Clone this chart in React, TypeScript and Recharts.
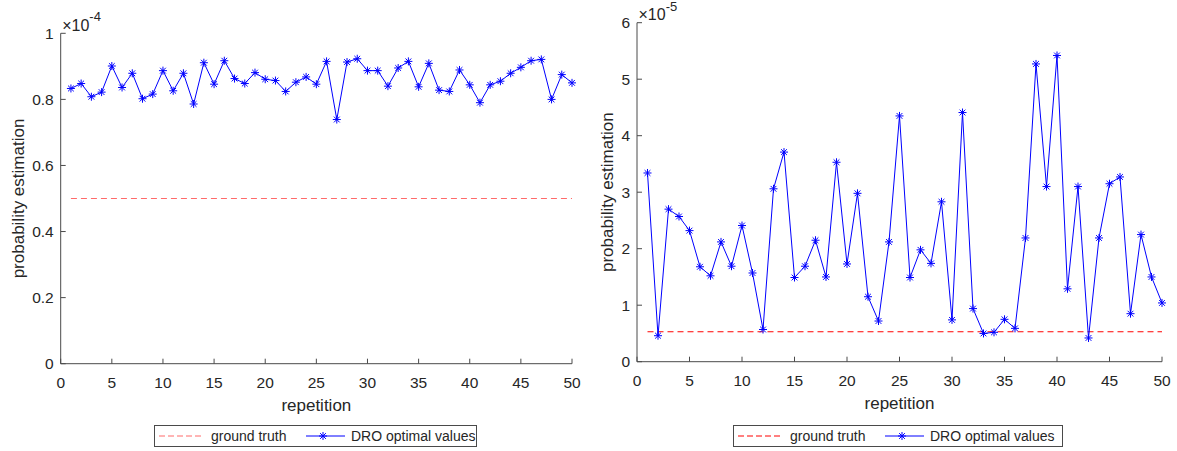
import React from "react";
import { Line, LineChart, ReferenceLine, XAxis, YAxis } from "recharts";

// repetition index (x axis)
const repetitions = [
  1, 2, 3, 4, 5, 6, 7, 8, 9, 10, 11, 12, 13, 14, 15, 16, 17, 18, 19, 20, 21, 22, 23, 24, 25,
  26, 27, 28, 29, 30, 31, 32, 33, 34, 35, 36, 37, 38, 39, 40, 41, 42, 43, 44, 45, 46, 47, 48, 49, 50,
];

// left panel, values in units of 1e-4
const droLeft = [
  0.833, 0.848, 0.808, 0.822, 0.901, 0.836, 0.879, 0.802, 0.816, 0.887,
  0.826, 0.879, 0.786, 0.911, 0.846, 0.917, 0.863, 0.848, 0.881, 0.861,
  0.857, 0.824, 0.852, 0.868, 0.846, 0.915, 0.739, 0.913, 0.923, 0.887,
  0.887, 0.84, 0.895, 0.915, 0.838, 0.909, 0.828, 0.824, 0.889, 0.844,
  0.79, 0.844, 0.855, 0.879, 0.897, 0.917, 0.921, 0.8, 0.875, 0.85,
];
const truthLeft = 0.5;

// right panel, values in units of 1e-5
const droRight = [
  3.34, 0.46, 2.7, 2.57, 2.32, 1.68, 1.52, 2.12, 1.69, 2.41,
  1.57, 0.57, 3.06, 3.71, 1.49, 1.69, 2.15, 1.5, 3.53, 1.73,
  2.98, 1.15, 0.72, 2.12, 4.35, 1.49, 1.98, 1.74, 2.83, 0.74,
  4.41, 0.94, 0.5, 0.52, 0.75, 0.59, 2.19, 5.27, 3.1, 5.42,
  1.29, 3.1, 0.42, 2.19, 3.15, 3.27, 0.85, 2.25, 1.5, 1.04,
];
const truthRight = 0.53;

const xTicks = [0, 5, 10, 15, 20, 25, 30, 35, 40, 45, 50];
const yTicksLeft = [0, 0.2, 0.4, 0.6, 0.8, 1];
const yTicksRight = [0, 1, 2, 3, 4, 5, 6];

const FONT = '"Liberation Sans", Arial, Helvetica, sans-serif';
const TEXT = "#262626";
const AXIS = "#4a4a4a";
const BLUE = "#0000ff";

// matlab style '*' marker
const Star = (props: any) => {
  const { cx, cy } = props;
  if (cx == null || cy == null) return null;
  const r = 4;
  const d = r * 0.72;
  return (
    <g stroke={BLUE} strokeWidth={1} key={`s-${cx}-${cy}`}>
      <line x1={cx - r} y1={cy} x2={cx + r} y2={cy} />
      <line x1={cx} y1={cy - r} x2={cx} y2={cy + r} />
      <line x1={cx - d} y1={cy - d} x2={cx + d} y2={cy + d} />
      <line x1={cx - d} y1={cy + d} x2={cx + d} y2={cy - d} />
    </g>
  );
};

type PanelProps = {
  left: number;
  width: number;
  top: number;
  right: number;
  yAxisWidth: number;
  xAxisHeight: number;
  values: number[];
  truth: number;
  truthColor: string;
  yMax: number;
  yTicks: number[];
  exponent: string;
  yLabelX: number;
};

function Panel(p: PanelProps) {
  const data = repetitions.map((rep, i) => ({ rep, dro: p.values[i] }));
  const plotH = 451 - p.top - p.xAxisHeight;
  const plotW = p.width - p.yAxisWidth - p.right;
  return (
    <div style={{ position: "absolute", left: p.left, top: 0 }}>
      <LineChart
        width={p.width}
        height={451}
        data={data}
        margin={{ top: p.top, right: p.right, bottom: 0, left: 0 }}
      >
        <XAxis
          dataKey="rep"
          type="number"
          domain={[0, 50]}
          ticks={xTicks}
          interval={0}
          height={p.xAxisHeight}
          tickSize={-5}
          tickMargin={18}
          axisLine={{ stroke: AXIS, strokeWidth: 1 }}
          tickLine={{ stroke: AXIS, strokeWidth: 1 }}
          tick={{ fill: TEXT, fontSize: 15.5, fontFamily: FONT }}
          label={() => (
            <text
              x={p.yAxisWidth + plotW / 2}
              y={p.top + plotH + 47}
              textAnchor="middle"
              fill={TEXT}
              fontSize={17}
              fontFamily={FONT}
            >
              repetition
            </text>
          )}
        />
        <YAxis
          type="number"
          domain={[0, p.yMax]}
          ticks={p.yTicks}
          interval={0}
          width={p.yAxisWidth}
          tickSize={-5}
          tickMargin={12}
          axisLine={{ stroke: AXIS, strokeWidth: 1 }}
          tickLine={{ stroke: AXIS, strokeWidth: 1 }}
          tick={{ fill: TEXT, fontSize: 15.5, fontFamily: FONT }}
          tickFormatter={(v: number) => String(v)}
          label={() => (
            <g fontFamily={FONT} fill={TEXT}>
              <text
                x={p.yLabelX}
                y={p.top + plotH / 2}
                textAnchor="middle"
                fontSize={17}
                transform={`rotate(-90, ${p.yLabelX}, ${p.top + plotH / 2})`}
              >
                probability estimation
              </text>
              <text x={p.yAxisWidth + 1.5} y={p.top - 2.5} fontSize={16}>
                ×10
                <tspan fontSize={13} dy={-9.5}>
                  {p.exponent}
                </tspan>
              </text>
            </g>
          )}
        />
        <ReferenceLine
          segment={[
            { x: 1, y: p.truth },
            { x: 50, y: p.truth },
          ]}
          stroke={p.truthColor}
          strokeWidth={1}
          strokeDasharray="6 4"
          ifOverflow="visible"
        />
        <Line
          type="linear"
          dataKey="dro"
          stroke={BLUE}
          strokeWidth={1}
          dot={Star}
          activeDot={false}
          isAnimationActive={false}
        />
      </LineChart>
    </div>
  );
}

function LegendBox({ left, width, truthColor }: { left: number; width: number; truthColor: string }) {
  return (
    <div
      style={{
        position: "absolute",
        left,
        top: 425,
        width,
        height: 22,
        boxSizing: "border-box",
        border: `1px solid ${AXIS}`,
        background: "#fff",
        fontFamily: FONT,
        fontSize: 14,
        color: TEXT,
      }}
    >
      <svg width={width} height={20} style={{ position: "absolute", left: 0, top: 0 }}>
        <line x1={4} y1={10} x2={49} y2={10} stroke={truthColor} strokeWidth={1} strokeDasharray="6 3" />
        <line x1={151} y1={10} x2={190} y2={10} stroke={BLUE} strokeWidth={1} />
        <Star cx={168} cy={10} />
      </svg>
      <span style={{ position: "absolute", left: 56, top: 2, whiteSpace: "nowrap" }}>ground truth</span>
      <span style={{ position: "absolute", left: 196, top: 2, whiteSpace: "nowrap" }}>DRO optimal values</span>
    </div>
  );
}

export default function App() {
  return (
    <div
      style={{
        position: "absolute",
        left: 0,
        top: 0,
        width: 1177,
        height: 451,
        background: "#fff",
        overflow: "hidden",
      }}
    >
      <Panel
        left={0}
        width={600}
        top={33.3}
        right={28}
        yAxisWidth={60.7}
        xAxisHeight={87.3}
        values={droLeft}
        truth={truthLeft}
        truthColor="#ff6a6a"
        yMax={1}
        yTicks={yTicksLeft}
        exponent="-4"
        yLabelX={23.5}
      />
      <Panel
        left={590}
        width={587}
        top={22.7}
        right={15}
        yAxisWidth={47}
        xAxisHeight={89.3}
        values={droRight}
        truth={truthRight}
        truthColor="#ff0000"
        yMax={6}
        yTicks={yTicksRight}
        exponent="-5"
        yLabelX={23}
      />
      <LegendBox left={154} width={323} truthColor="#ff6a6a" />
      <LegendBox left={733} width={330} truthColor="#ff0000" />
    </div>
  );
}
